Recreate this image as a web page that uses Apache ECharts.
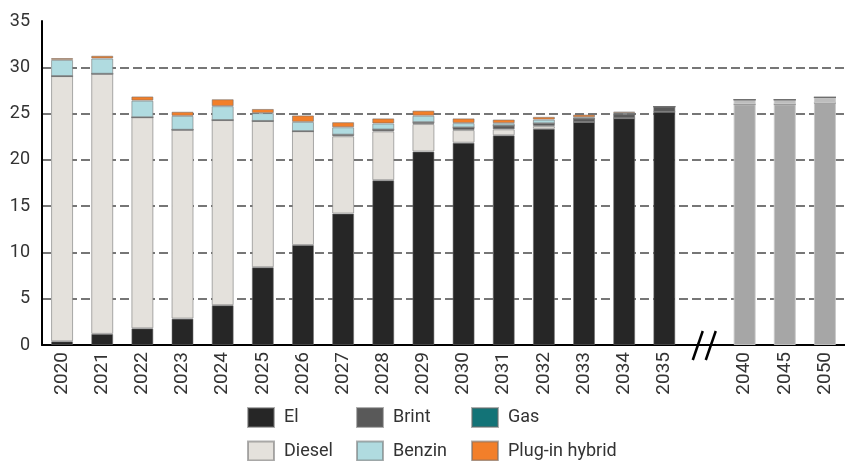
<!DOCTYPE html>
<html>
<head>
<meta charset="utf-8">
<script src="https://cdn.jsdelivr.net/npm/echarts@6/dist/echarts.min.js"></script>
<style>
  html, body { margin: 0; padding: 0; background: #fff; }
  #chart { width: 845px; height: 461px; }
</style>
</head>
<body>
<div id="chart"></div>
<script>
// Years on the x axis; the empty entry is the break between 2035 and 2040
const years = ['2020','2021','2022','2023','2024','2025','2026','2027','2028','2029',
               '2030','2031','2032','2033','2034','2035','','2040','2045','2050'];
const breakIndex = 16;

// Stock per drivetrain (stacked bottom to top)
const el     = [0.4, 1.2, 1.8, 2.85, 4.3, 8.4, 10.8, 14.2, 17.8, 20.9, 21.85, 22.65, 23.35, 24.1, 24.5, 25.2, null, 26.0, 26.0, 26.15];
const diesel = [28.65, 28.1, 22.8, 20.4, 20.0, 15.8, 12.3, 8.35, 5.28, 2.97, 1.37, 0.65, 0.3, 0, 0, 0, null, 0, 0, 0];
const brint  = [0, 0, 0, 0, 0, 0, 0, 0.17, 0.2, 0.2, 0.29, 0.4, 0.3, 0.36, 0.43, 0.55, null, 0.5, 0.5, 0.6];
const gas    = [0, 0, 0, 0, 0, 0, 0, 0, 0, 0, 0, 0, 0, 0, 0, 0, null, 0, 0, 0];
const benzin = [1.75, 1.65, 1.8, 1.5, 1.5, 0.85, 1.0, 0.8, 0.65, 0.7, 0.46, 0.26, 0.4, 0.14, 0.14, 0, null, 0, 0, 0];
const phev   = [0.2, 0.3, 0.45, 0.45, 0.75, 0.45, 0.7, 0.55, 0.55, 0.55, 0.51, 0.4, 0.3, 0.29, 0.15, 0, null, 0, 0, 0];

// Long-term projections are drawn in neutral grey
const projectedYears = ['2040', '2045', '2050'];

const yTicks = { min: 0, max: 35, interval: 5 };

// Legend grid: three columns, two rows
const legendRows = [['El', 'Brint', 'Gas'], ['Diesel', 'Benzin', 'Plug-in hybrid']];

const chart = echarts.init(document.getElementById('chart'), null, { renderer: 'canvas' });

const edge = 'rgba(110,110,110,0.55)';

function withProjection(values, projColor) {
  return values.map((v, i) => {
    if (projectedYears.indexOf(years[i]) >= 0) {
      return { value: v, itemStyle: { color: projColor, borderColor: 'rgba(200,200,200,0.9)' } };
    }
    return v;
  });
}

function bar(name, data, color) {
  return {
    name: name,
    type: 'bar',
    stack: 'total',
    barWidth: 22,
    data: data,
    itemStyle: { color: color, borderColor: edge, borderWidth: 1 },
    emphasis: { disabled: true }
  };
}

const colLeft = [247, 356, 471];
const rowTop = [407, 440.5];
const legends = [];
legendRows.forEach((row, r) => {
  row.forEach((name, c) => {
    legends.push({
      data: [name],
      left: colLeft[c],
      top: rowTop[r],
      padding: 0,
      itemWidth: 26,
      itemHeight: 19,
      icon: 'rect',
      selectedMode: false,
      textStyle: { fontFamily: 'Roboto', fontSize: 18, color: '#333', padding: [0, 0, 0, 5] }
    });
  });
});

chart.setOption({
  animation: false,
  backgroundColor: '#fff',
  grid: { left: 42, top: 21, width: 809.4, height: 324, containLabel: false },
  legend: legends,
  xAxis: {
    type: 'category',
    data: years,
    axisLine: { show: true, lineStyle: { color: '#000', width: 2 } },
    axisTick: { show: false },
    axisLabel: {
      rotate: 90,
      margin: 7,
      interval: 0,
      fontFamily: 'Liberation Sans Narrow, Roboto',
      fontSize: 19,
      color: '#333'
    }
  },
  yAxis: {
    type: 'value',
    min: yTicks.min,
    max: yTicks.max,
    interval: yTicks.interval,
    axisLine: { show: true, lineStyle: { color: '#000', width: 2 } },
    axisTick: { show: false },
    axisLabel: { margin: 12, fontFamily: 'Roboto', fontSize: 18, color: '#333' },
    splitLine: {
      show: true,
      showMinLine: false,
      showMaxLine: false,
      lineStyle: { color: '#4a4a4a', width: 1.6, type: [9, 4] }
    }
  },
  series: [
    bar('El', withProjection(el, '#a6a6a6'), '#262626'),
    bar('Diesel', diesel, '#e4e1dc'),
    bar('Brint', withProjection(brint, '#bdbdbd'), '#595959'),
    bar('Gas', gas, '#137377'),
    bar('Benzin', benzin, '#b0dbe0'),
    bar('Plug-in hybrid', phev, '#f27f2a')
  ]
});

// Axis break marker "//" at the empty slot
const bx = chart.convertToPixel({ xAxisIndex: 0 }, breakIndex);
const by = chart.convertToPixel({ yAxisIndex: 0 }, 0);
const slash = { stroke: '#000', lineWidth: 2.5 };
chart.setOption({
  graphic: [
    { type: 'line', shape: { x1: bx - 11.7, y1: by + 15, x2: bx - 1.7, y2: by - 14 }, style: slash, z: 100 },
    { type: 'line', shape: { x1: bx + 1.3, y1: by + 15, x2: bx + 11.3, y2: by - 14 }, style: slash, z: 100 }
  ]
});
</script>
</body>
</html>
